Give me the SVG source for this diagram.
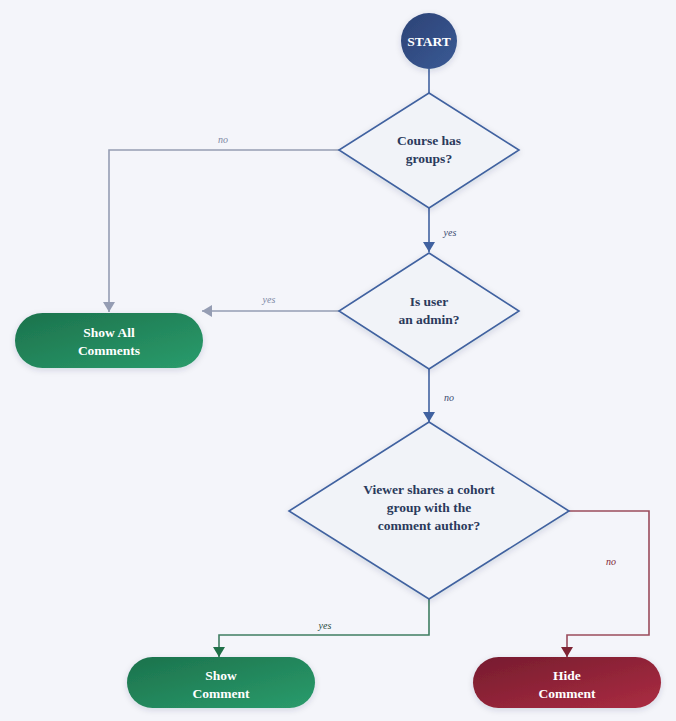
<svg xmlns="http://www.w3.org/2000/svg" width="676" height="721" viewBox="0 0 676 721">
<defs>
<linearGradient id="gStart" x1="0" y1="0" x2="1" y2="1"><stop offset="0" stop-color="#2c4275"/><stop offset="1" stop-color="#3a5a95"/></linearGradient>
<linearGradient id="gGreen" x1="0" y1="0" x2="1" y2="1"><stop offset="0" stop-color="#1c724c"/><stop offset="1" stop-color="#2a9c6c"/></linearGradient>
<linearGradient id="gRed" x1="0" y1="0" x2="1" y2="1"><stop offset="0" stop-color="#761c2e"/><stop offset="1" stop-color="#ab2c42"/></linearGradient>
<filter id="sh" x="-20%" y="-20%" width="140%" height="150%"><feDropShadow dx="0" dy="2" stdDeviation="3" flood-color="#1a2a50" flood-opacity="0.15"/></filter>
<marker id="aBlue" viewBox="0 0 10 12" refX="10" refY="6" markerWidth="10" markerHeight="12" markerUnits="userSpaceOnUse" orient="auto"><path d="M0,0L10,6L0,12z" fill="#4162a0"/></marker>
<marker id="aGray" viewBox="0 0 10 12" refX="10" refY="6" markerWidth="10" markerHeight="12" markerUnits="userSpaceOnUse" orient="auto"><path d="M0,0L10,6L0,12z" fill="#959db3"/></marker>
<marker id="aGreen" viewBox="0 0 10 12" refX="10" refY="6" markerWidth="10" markerHeight="12" markerUnits="userSpaceOnUse" orient="auto"><path d="M0,0L10,6L0,12z" fill="#1f7048"/></marker>
<marker id="aRed" viewBox="0 0 10 12" refX="10" refY="6" markerWidth="10" markerHeight="12" markerUnits="userSpaceOnUse" orient="auto"><path d="M0,0L10,6L0,12z" fill="#7e2434"/></marker>
</defs>
<style>
.bg{fill:#f4f5fa}
.dia{fill:#f1f3f8;stroke:#4162a0;stroke-width:1.6;filter:url(#sh)}
.dt{font-family:"Liberation Serif","DejaVu Serif",serif;font-weight:bold;font-size:13.5px;fill:#2b3a5c;text-anchor:middle}
.wt{font-family:"Liberation Serif","DejaVu Serif",serif;font-weight:bold;font-size:13.5px;fill:#ffffff;text-anchor:middle}
.lbl{font-family:"Liberation Serif","DejaVu Serif",serif;font-style:italic;font-size:10px;text-anchor:middle}
.c{fill:none;stroke-width:1.6}
</style>
<rect class="bg" x="0" y="0" width="676" height="721"/>
<g id="connectors">
<path class="c" d="M429,69 V93" stroke="#4162a0"/>
<path class="c" d="M339,150 H109 V312" stroke="#959db3" marker-end="url(#aGray)"/>
<text class="lbl" x="223" y="143" fill="#7d88a4">no</text>
<path class="c" d="M429,208 V252" stroke="#4162a0" marker-end="url(#aBlue)"/>
<text class="lbl" x="450" y="236" fill="#3a4a70">yes</text>
<path class="c" d="M339,311 H202" stroke="#959db3" marker-end="url(#aGray)"/>
<text class="lbl" x="269" y="303" fill="#7d88a4">yes</text>
<path class="c" d="M429,369 V422" stroke="#4162a0" marker-end="url(#aBlue)"/>
<text class="lbl" x="449" y="401" fill="#3a4a70">no</text>
<path class="c" d="M429,599 V635 H219 V657" stroke="#3f7e62" marker-end="url(#aGreen)"/>
<text class="lbl" x="325" y="629" fill="#1f4a3a">yes</text>
<path class="c" d="M569,511 H649 V635 H567 V657" stroke="#9a4c5c" marker-end="url(#aRed)"/>
<text class="lbl" x="611" y="565" fill="#7e2434">no</text>
</g>
<g id="start">
<circle cx="429" cy="41" r="28" fill="url(#gStart)" filter="url(#sh)"/>
<text class="wt" x="429" y="46">START</text>
</g>
<g id="course-has-groups">
<polygon class="dia" points="429,93 519,150 429,208 339,150"/>
<text class="dt" x="429" y="145">Course has</text>
<text class="dt" x="429" y="163">groups?</text>
</g>
<g id="is-admin">
<polygon class="dia" points="429,253 519,311 429,369 339,311"/>
<text class="dt" x="429" y="306">Is user</text>
<text class="dt" x="429" y="324">an admin?</text>
</g>
<g id="shares-cohort">
<polygon class="dia" points="429,422 569,511 429,599 289,511"/>
<text class="dt" x="429" y="494">Viewer shares a cohort</text>
<text class="dt" x="429" y="512">group with the</text>
<text class="dt" x="429" y="530">comment author?</text>
</g>
<g id="show-all">
<rect x="15" y="313" width="188" height="55" rx="27.5" fill="url(#gGreen)" filter="url(#sh)"/>
<text class="wt" x="109" y="337">Show All</text>
<text class="wt" x="109" y="355">Comments</text>
</g>
<g id="show-comment">
<rect x="127" y="657" width="188" height="51" rx="25.5" fill="url(#gGreen)" filter="url(#sh)"/>
<text class="wt" x="221" y="680">Show</text>
<text class="wt" x="221" y="698">Comment</text>
</g>
<g id="hide-comment">
<rect x="473" y="657" width="188" height="51" rx="25.5" fill="url(#gRed)" filter="url(#sh)"/>
<text class="wt" x="567" y="680">Hide</text>
<text class="wt" x="567" y="698">Comment</text>
</g>
</svg>
